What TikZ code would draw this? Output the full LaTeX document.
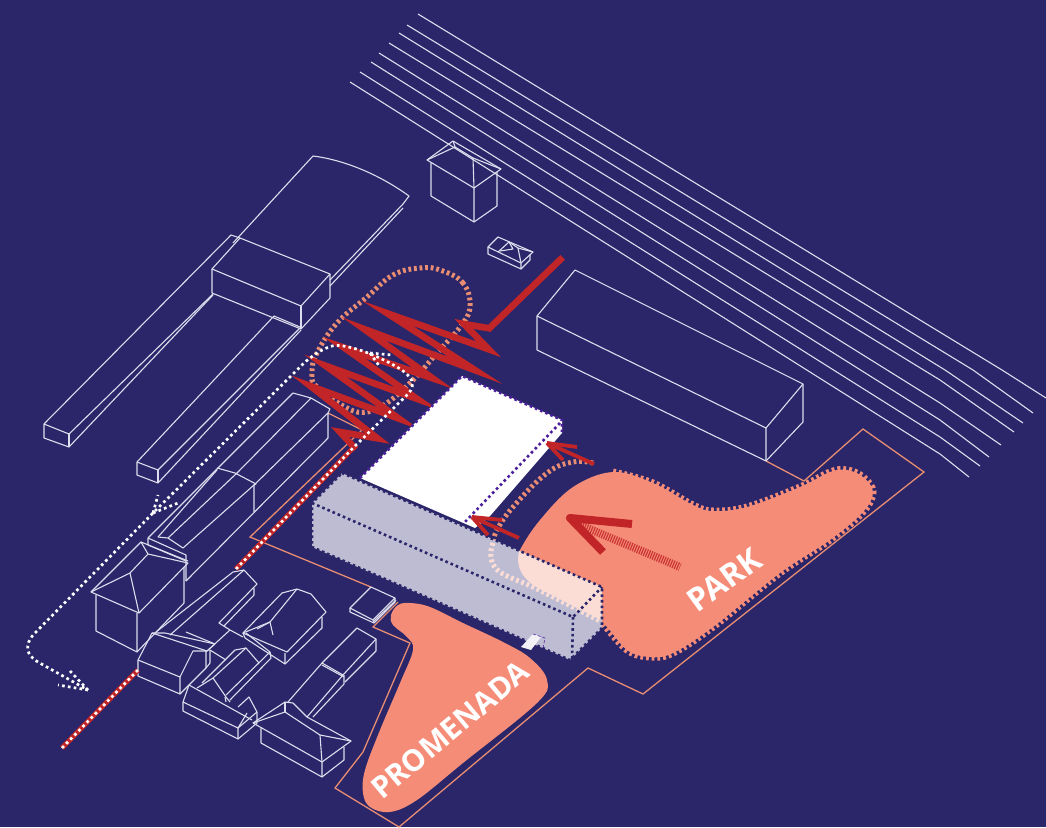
\documentclass[tikz,border=0pt]{standalone}
\usepackage{fontspec}
\setmainfont{Open Sans}
\definecolor{bgnavy}{HTML}{2A2669}
\definecolor{wireline}{HTML}{DEDDEE}
\definecolor{salmon}{HTML}{F58C78}
\definecolor{plotline}{HTML}{E88C72}
\definecolor{redzag}{HTML}{C22527}
\definecolor{blockgray}{HTML}{BEBCD3}
\definecolor{palepink}{HTML}{FCDDD5}
\definecolor{violetdot}{HTML}{4B1E9A}
\tikzset{
  wire/.style={draw=wireline,line width=1.1pt,line join=round},
  plotedge/.style={draw=plotline,line width=1.3pt,line join=miter},
  loopdash/.style={draw=plotline,line width=5pt,dash pattern=on 2.8pt off 2.8pt},
  whitedot/.style={draw=white,line width=2.7pt,dash pattern=on 2.7pt off 3.2pt},
  edgedot/.style={draw=bgnavy,line width=2.6pt,dash pattern=on 2.6pt off 3pt},
  vioedge/.style={draw=violetdot,line width=2.6pt,dash pattern=on 2.6pt off 3pt},
  redarr/.style={draw=redzag,line width=3.8pt},
  lbl/.style={font=\fontsize{30}{30}\selectfont\bfseries,text=white,inner sep=0pt}
}
\begin{document}
\begin{tikzpicture}[x=1pt,y=-1pt]
  \useasboundingbox (0,0) rectangle (1046,827);
  \fill[bgnavy] (0,0) rectangle (1046,827);

  % rails
  \foreach \ax/\ay/\mx/\my/\bx/\by in {418/14/1002/370/1046/398,407/25/973/370/1033/413,399/33/945/370/1023/423,
      389/43/940/380/1014/432,379/53/940/403/1001/445,371/62/940/420/989/457,360/72/940/437/980/466,350/82/940/454/969/477}
    \draw[wire] (\ax,\ay)--(\mx,\my)--(\bx,\by);

  % plot boundary
  \draw[plotedge] (328,413)--(362,430)--(250,537)--(371,587);
  \draw[plotedge] (398,602)--(373,627)--(410,643)--(363,752)--(335,788)--(399,827);
  \draw[plotedge] (766,461)--(804,481)--(863,429)--(924,472)--(643,694)--(588,668)--(399,827);

  % long sheds top left
  \draw[wire] (44,424)--(231,235)--(240,238);
  \draw[wire] (44,424)--(69,434)--(213,294);
  \draw[wire] (44,424)--(44,438)--(69,447)--(213,295);
  \draw[wire] (69,434)--(69,447);
  \draw[wire] (212,269)--(240,238)--(330,274)--(301,306)--cycle;
  \draw[wire] (212,269)--(212,293)--(301,329)--(330,298)--(330,274);
  \draw[wire] (301,306)--(301,329);
  \draw[wire] (233,243)--(313,156) .. controls (345,160) and (380,175) .. (409,196)--(403,204)--(330,280);
  \draw[wire] (330,286)--(403,208);
  \draw[wire] (137,462)--(274,316)--(300,327);
  \draw[wire] (137,462)--(158,470)--(300,328);
  \draw[wire] (137,462)--(137,475)--(158,483)--(301,330);
  \draw[wire] (158,470)--(158,483);

  % long house by the path
  \draw[wire] (148,538)--(293,393)--(311,398)--(330,409)--(328,413)--(328,438)--(186,581);
  \draw[wire] (158,537)--(217,470);
  \draw[wire] (168,538)--(237,473)--(311,398);
  \draw[wire] (183,548)--(254,485)--(328,413);
  \draw[wire] (217,468)--(235,473)--(256,484)--(254,485)--(254,512);
  \draw[wire] (158,537)--(168,538)--(183,548);
  \draw[wire] (148,538)--(148,545)--(186,561);
  \draw[wire] (148,538)--(186,555)--(186,581);

  % houses bottom left
  \draw[wire] (91,592)--(141,542)--(148,554)--(188,563)--(139,613)--cycle;
  \draw[wire] (91,592)--(130,573)--(148,554);
  \draw[wire] (130,573)--(139,613);
  \draw[wire] (141,542)--(188,561);
  \draw[wire] (96,595)--(96,631)--(137,652)--(137,613);
  \draw[wire] (137,652)--(184,603)--(184,567);

  \draw[wire] (156,632)--(233,572)--(244,570)--(257,584)--(219,623)--(230,630);
  \draw[wire] (170,635)--(244,570);
  \draw[wire] (254,588)--(254,595)--(224,626);
  \draw[wire] (186,632)--(215,644);
  \draw[wire] (230,630)--(207,651);
  \draw[wire] (152,633)--(165,633)--(215,644)--(207,651)--(193,651)--(180,677)--(138,660)--cycle;
  \draw[wire] (152,633)--(207,651);
  \draw[wire] (138,660)--(138,676)--(180,694)--(180,677);
  \draw[wire] (180,694)--(206,668)--(206,651);
  \draw[wire] (210,650)--(210,663)--(206,668);
  \draw[wire] (210,650)--(226,660);

  \draw[wire] (243,633)--(282,593)--(297,589)--(311,594)--(326,612)--(287,652)--cycle;
  \draw[wire] (257,629)--(270,622)--(297,589);
  \draw[wire] (243,633)--(270,622)--(273,635);
  \draw[wire] (245,638)--(285,664)--(285,653);
  \draw[wire] (243,633)--(245,638);
  \draw[wire] (285,664)--(322,628)--(322,617);
  \draw[wire] (230,630)--(243,637);

  \draw[wire] (189,685)--(252,720);
  \draw[wire] (189,685)--(183,702)--(238,728)--(247,713);
  \draw[wire] (183,702)--(183,711)--(238,739)--(238,728);
  \draw[wire] (238,739)--(257,723)--(257,712)--(249,697)--(238,707);
  \draw[wire] (238,728)--(257,712);
  \draw[wire] (197,688)--(213,678)--(226,697)--(230,702);
  \draw[wire] (213,678)--(246,648)--(259,663);
  \draw[wire] (202,683)--(235,650)--(246,648);
  \draw[wire] (226,695)--(270,652)--(246,633);
  \draw[wire] (230,700)--(271,658)--(270,652);
  \draw[wire] (225,697)--(226,702);

  % bottom right houses
  \draw[wire] (322,663)--(357,628)--(376,639)--(343,675)--cycle;
  \draw[wire] (322,665)--(344,677);
  \draw[wire] (344,675)--(344,684)--(313,717);
  \draw[wire] (376,639)--(376,651)--(345,682);
  \draw[wire] (288,702)--(322,663);
  \draw[wire] (307,717)--(343,675);
  \draw[wire] (253,723)--(285,702)--(293,703)--(307,717)--(351,741)--(322,762)--cycle;
  \draw[wire] (253,723)--(285,712)--(320,735)--(351,741);
  \draw[wire] (285,702)--(285,712);
  \draw[wire] (320,735)--(322,762);
  \draw[wire] (261,727)--(261,743)--(322,777)--(322,762);
  \draw[wire] (322,777)--(344,760)--(344,747);

  % small shed
  \draw[wire] (350,608)--(371,587)--(395,598)--(373,620)--cycle;
  \draw[wire] (350,608)--(350,612)--(374,623)--(395,602)--(395,598);
  \draw[wire] (373,620)--(374,623);
  \draw[wire] (374,621)--(396,600);

  % top house
  \draw[wire] (427,160)--(453,141)--(501,169)--(474,188)--cycle;
  \draw[wire] (427,160)--(455,147)--(453,141);
  \draw[wire] (455,147)--(473,158)--(474,188);
  \draw[wire] (473,158)--(501,169);
  \draw[wire] (431,163)--(431,196)--(474,222)--(474,188);
  \draw[wire] (474,222)--(497,206)--(497,172);
  % little house
  \draw[wire] (488,247)--(498,237)--(533,252)--(521,263)--cycle;
  \draw[wire] (488,247)--(488,254)--(521,269)--(521,263);
  \draw[wire] (521,269)--(530,260)--(530,255);
  \draw[wire] (498,252)--(509,242)--(518,248)--(533,252);
  \draw[wire] (518,248)--(521,263);
  \draw[wire] (509,242)--(513,249)--(500,251);

  % long bar
  \draw[wire] (537,316)--(575,270)--(803,384)--(766,428)--cycle;
  \draw[wire] (537,316)--(537,350)--(766,461)--(766,428);
  \draw[wire] (766,461)--(803,422)--(803,384);

  % salmon loop
  \draw[loopdash] plot[smooth cycle,tension=0.7] coordinates {(470,307) (463,283) (440,270) (420,268) (393,275) (367,297) (337,323) (317,353) (312,373) (317,387) (347,408) (367,412) (387,403) (413,380) (437,353) (460,327)};

  % zigzag
  \begin{scope}[shift={(280,240)},x=0.3333pt,y=-0.3333pt]
    \draw[redzag,line width=6.6pt,line join=miter,miter limit=40] (848,52)--(628,265)--(552,252)--(626,328)--(322,220)--(586,391)--(252,267)--(458,415)--(192,323)--(412,477)--(136,377)--(357,536)--(91,438)--(292,595)--(180,576)--(228,628);
  \end{scope}

  % red line and dotted route
  \draw[redzag,line width=5pt] (353,448)--(236,569);
  \draw[redzag,line width=5pt] (138,670)--(62,748);
  \draw[whitedot] (62,748)--(138,670);
  \draw[whitedot] (236,569)--(353,448)--(408,394) .. controls (417,384) and (412,376) .. (397,367) .. controls (375,354) and (345,343) .. (332,346) .. controls (322,349) and (315,354) .. (305,362)--(153,513)--(34,634) .. controls (24,645) and (26,655) .. (38,662)--(86,689);
  \draw[whitedot] (153,513)--(158,495);
  \draw[whitedot] (153,513)--(178,503);
  \draw[whitedot] (88,690)--(70,671);
  \draw[whitedot] (88,690)--(58,685);
  \draw[whitedot] (370,353)--(392,355);
  \draw[whitedot] (370,353)--(380,367);

  % white block
  \fill[white] (462,376)--(562,420)--(562,433)--(490,516)--(475,528)--(360,478)--cycle;
  \draw[vioedge] (360,478)--(462,376)--(562,420)--(562,432);
  \draw[vioedge] (560,423)--(463,524);

  % park and ring
  \fill[salmon] plot[smooth cycle,tension=0.6] coordinates {(613,472) (653,483) (693,505) (713,511) (747,507) (800,487) (830,472) (847,470) (863,477) (873,492) (863,512) (830,540) (780,573) (713,627) (673,653) (650,657) (627,650) (603,623) (575,605) (527,580) (518,563) (520,550) (540,520) (573,487)};
  \draw[loopdash,line width=7pt,draw=salmon] plot[smooth,tension=0.6] coordinates {(613,472) (653,483) (693,505) (713,511) (747,507) (800,487) (830,472) (847,470) (863,477) (873,492) (863,512) (830,540) (780,573) (713,627) (673,653) (650,657) (627,650) (603,623)};
  \draw[loopdash] plot[smooth,tension=0.7] coordinates {(593,463) (573,462) (547,473) (513,507) (497,530) (493,543)};

  % gray block
  \fill[blockgray] (342,473)--(602,587)--(602,628)--(570,660)--(312,547)--(312,503)--cycle;
  \fill[palepink] (519,551) .. controls (515,570) and (525,581) .. (540,589)--(601,620)--(602,587)--cycle;
  \draw[loopdash,draw=palepink] plot[smooth,tension=0.7] coordinates {(493,543) (491,557) (500,572) (533,587) (565,603) (600,621)};
  \draw[edgedot] (342,473)--(602,587)--(602,628)--(570,660)--(312,547)--(312,503)--cycle;
  \draw[edgedot] (312,503)--(573,617)--(602,587);
  \draw[edgedot] (573,617)--(572,660);
  \fill[white!80!blockgray] (521,647)--(533,634)--(541,637)--(531,650)--cycle;
  \draw[violetdot,line width=0.6pt,densely dashed] (533,634)--(545,638)--(543,648);

  % small arrows
  \draw[redarr] (547,443)--(594,464);
  \draw[redarr] (547,443)--(577,447);
  \draw[redarr] (547,443)--(563,460);
  \draw[redarr] (472,517)--(519,538);
  \draw[redarr] (472,517)--(502,520);
  \draw[redarr] (472,517)--(488,535);

  % park arrow
  \draw[redzag!85!salmon,line width=8pt,dash pattern=on 1.2pt off 1.2pt] (580,525)--(680,567);
  \draw[redzag,line width=8pt,line join=round] (632,524)--(570,518)--(603,552);

  % promenade
  \fill[salmon] plot[smooth cycle,tension=0.6] coordinates {(410,603) (430,607) (463,623) (503,642) (530,658) (547,680) (537,703) (463,763) (417,800) (390,812) (370,807) (363,793) (365,770) (380,730) (400,683) (413,650) (407,637) (393,625) (391,615) (398,605)};

  \node[lbl,rotate=40] (promenada) at (450,730) {PROMENADA};
  \node[lbl,font=\fontsize{32}{32}\selectfont\bfseries,rotate=36] (park) at (724,580) {PARK};
\end{tikzpicture}
\end{document}
